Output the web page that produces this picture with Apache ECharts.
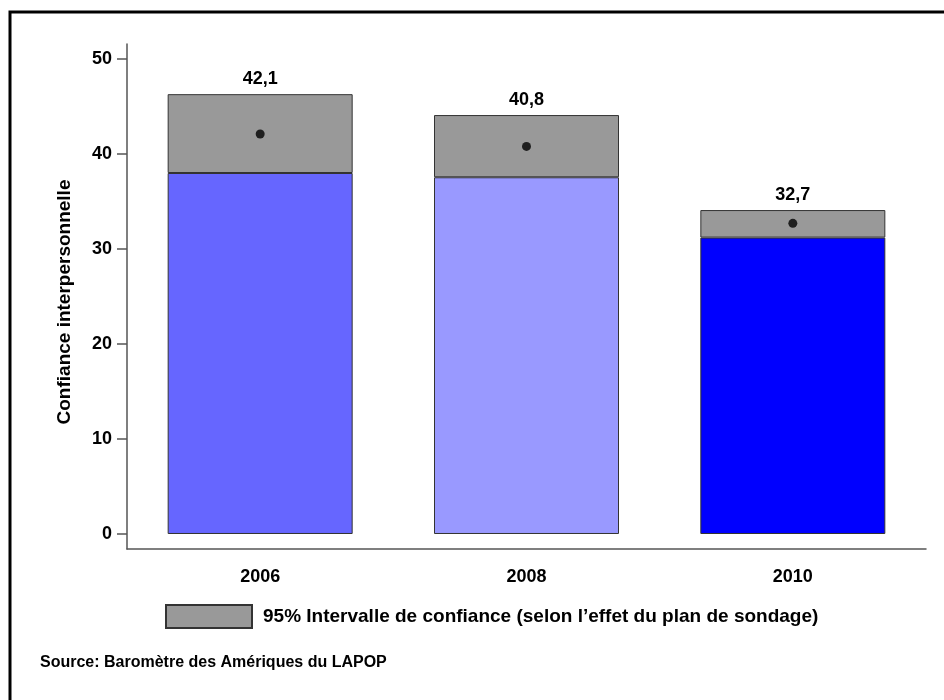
<!DOCTYPE html>
<html>
<head>
<meta charset="utf-8">
<script src="https://cdn.jsdelivr.net/npm/echarts@6/dist/echarts.min.js"></script>
<style>
  html, body { margin: 0; padding: 0; background: #fff; }
  #chart { width: 944px; height: 700px; }
</style>
</head>
<body>
<div id="chart"></div>
<script>
// Survey years and interpersonal trust estimates with 95% confidence bounds
const years = ['2006', '2008', '2010'];
const means = [42.1, 40.8, 32.7];
const lowerBounds = [38.0, 37.55, 31.2];
const upperBounds = [46.3, 44.1, 34.1];
const barColors = ['#6666FF', '#9999FF', '#0000FF'];
const yTicks = [0, 10, 20, 30, 40, 50];

const ciName = '95% Intervalle de confiance (selon l\u2019effet du plan de sondage)';
const fontFamily = '"Liberation Sans", Arial, sans-serif';

const chart = echarts.init(document.getElementById('chart'));

chart.setOption({
  animation: false,
  backgroundColor: '#fff',
  grid: { left: 127, right: 18, top: 44, bottom: 151 },
  xAxis: {
    type: 'category',
    data: years,
    axisLine: { onZero: false, lineStyle: { color: '#555', width: 1.5 } },
    axisTick: { alignWithLabel: true, length: 10, lineStyle: { color: '#555', width: 1.5 } },
    axisLabel: { color: '#000', fontSize: 18, fontWeight: 'bold', fontFamily, margin: 19 },
    splitLine: { show: false }
  },
  yAxis: {
    type: 'value',
    min: -1.58,
    max: 51.58,
    axisLine: { show: true, lineStyle: { color: '#555', width: 1.5 } },
    axisTick: { show: true, length: 10, customValues: yTicks, lineStyle: { color: '#555', width: 1.5 } },
    axisLabel: { color: '#000', fontSize: 18, fontWeight: 'bold', fontFamily, margin: 15, customValues: yTicks },
    splitLine: { show: false }
  },
  legend: {
    data: [ciName],
    left: 165,
    top: 604,
    padding: 0,
    itemWidth: 86,
    itemHeight: 23,
    itemGap: 10,
    icon: 'rect',
    textStyle: { color: '#000', fontSize: 19, fontWeight: 'bold', fontFamily, padding: [0, 0, 0, 6] },
    selectedMode: false
  },
  title: {
    text: 'Source: Barom\u00e8tre des Am\u00e9riques du LAPOP',
    left: 35,
    top: 650,
    textStyle: { color: '#000', fontSize: 16, fontWeight: 'bold', fontFamily }
  },
  graphic: [
    {
      type: 'rect',
      shape: { x: 10, y: 12, width: 1000, height: 800 },
      style: { fill: 'none', stroke: '#000', lineWidth: 3 },
      silent: true
    },
    {
      type: 'text',
      x: 65,
      y: 302,
      rotation: Math.PI / 2,
      style: {
        text: 'Confiance interpersonnelle',
        fill: '#000',
        font: 'bold 19px ' + fontFamily,
        align: 'center',
        verticalAlign: 'middle'
      }
    }
  ],
  series: [
    {
      name: 'base',
      type: 'bar',
      stack: 'ci',
      barWidth: 185,
      data: lowerBounds.map((v, i) => ({
        value: v,
        itemStyle: { color: barColors[i] }
      })),
      itemStyle: { borderColor: '#333', borderWidth: 1 }
    },
    {
      name: ciName,
      type: 'bar',
      stack: 'ci',
      barWidth: 185,
      data: upperBounds.map((u, i) => u - lowerBounds[i]),
      itemStyle: { color: '#999999', borderColor: '#333', borderWidth: 1 },
      label: {
        show: true,
        position: 'top',
        distance: 6,
        formatter: p => means[p.dataIndex].toFixed(1).replace('.', ','),
        color: '#000',
        fontSize: 18,
        fontWeight: 'bold',
        fontFamily
      }
    },
    {
      name: 'mean',
      type: 'scatter',
      data: means,
      symbol: 'circle',
      symbolSize: 9,
      itemStyle: { color: '#000' },
      z: 5
    }
  ]
});
</script>
</body>
</html>
